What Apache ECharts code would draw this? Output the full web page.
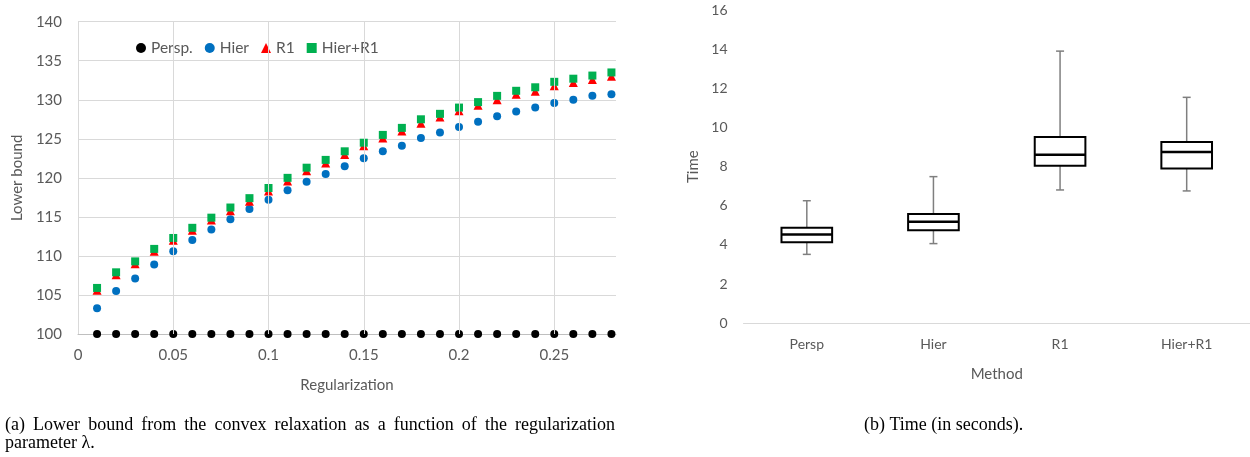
<!DOCTYPE html>
<html><head><meta charset="utf-8">
<script src="https://cdn.jsdelivr.net/npm/echarts@6/dist/echarts.min.js"></script>
<style>html,body{margin:0;padding:0;background:#fff;overflow:hidden}#c{width:1250px;height:457px}</style>
</head><body><div id="c"></div>
<script>
// ---- Left chart data ----
const lambdas = [0.01,0.02,0.03,0.04,0.05,0.06,0.07,0.08,0.09,0.10,0.11,0.12,0.13,0.14,0.15,0.16,0.17,0.18,0.19,0.20,0.21,0.22,0.23,0.24,0.25,0.26,0.27,0.28];
const persp = [100,100,100,100,100,100,100,100,100,100,100,100,100,100,100,100,100,100,100,100,100,100,100,100,100,100,100,100];
const hier = [103.3,105.5,107.1,108.9,110.6,112.05,113.4,114.7,116.0,117.2,118.4,119.5,120.5,121.5,122.5,123.4,124.1,125.1,125.8,126.5,127.2,127.9,128.5,129.0,129.6,130.0,130.5,130.7];
const r1 = [105.6,107.6,109.0,110.6,112.0,113.3,114.6,115.8,117.0,118.3,119.6,120.9,121.9,123.0,124.1,125.1,126.0,127.0,127.8,128.6,129.3,130.0,130.7,131.1,131.8,132.2,132.6,133.0];
const hierR1 = [105.9,107.9,109.3,110.9,112.3,113.6,114.9,116.2,117.4,118.7,120.0,121.3,122.3,123.4,124.5,125.5,126.4,127.5,128.2,129.0,129.7,130.5,131.15,131.6,132.3,132.7,133.1,133.5];
const xGridTicks = [0,0.05,0.1,0.15,0.2,0.25];
// ---- Right chart data ----
const methods = ['Persp','Hier','R1','Hier+R1'];
const tMin = [3.52,4.07,6.81,6.76];
const tQ1 = [4.14,4.75,8.05,7.90];
const tMed = [4.54,5.19,8.61,8.75];
const tQ3 = [4.88,5.58,9.51,9.26];
const tMax = [6.26,7.49,13.9,11.54];
// ---- Captions ----
const captionA1 = '(a) Lower bound from the convex relaxation as a function of the regularization';
const captionA2 = 'parameter \u03bb.';
const captionB = '(b) Time (in seconds).';

const pair = a => lambdas.map((x,i)=>[x,a[i]]);
const txt = '#595959';
const FONT = 'Lato';
const CAP_FONT = '18px "Liberation Serif"';

// justified caption line: place words spread across the target width
const mctx = document.createElement('canvas').getContext('2d');
mctx.font = CAP_FONT;
function justified(text, x0, x1, top){
  const words = text.split(' ');
  const ws = words.map(w=>mctx.measureText(w).width);
  const total = ws.reduce((a,b)=>a+b,0);
  const gap = (x1-x0-total)/(words.length-1);
  let x = x0; const out=[];
  words.forEach((w,i)=>{ out.push({type:'text', x:x, y:top, style:{text:w, font:CAP_FONT, fill:'#000', textVerticalAlign:'top'}}); x += ws[i]+gap; });
  return out;
}

const chart = echarts.init(document.getElementById('c'), null, {renderer:'canvas'});
chart.setOption({
  animation:false,
  textStyle:{fontFamily:FONT},
  grid:[
    {left:78, top:21.7, width:538, height:312.3, containLabel:false},
    {left:743.5, top:10, width:516, height:313.3, containLabel:false}
  ],
  legend:{
    data:['Persp.','Hier','R1','Hier+R1'],
    left:131, top:35, itemWidth:10, itemHeight:10, itemGap:12,
    textStyle:{color:txt, fontSize:15.5, fontFamily:FONT}
  },
  xAxis:[
    {gridIndex:0, type:'value', min:0, max:0.2824, interval:0.05,
     name:'Regularization', nameLocation:'middle', nameGap:44,
     nameTextStyle:{color:txt, fontSize:15, fontFamily:FONT},
     axisLine:{show:true, lineStyle:{color:'#bfbfbf', width:1}},
     axisTick:{show:false}, splitLine:{show:false},
     axisLabel:{color:txt, fontSize:15, margin:14, showMaxLabel:false, fontFamily:FONT}},
    {gridIndex:1, type:'category', data:methods,
     name:'Method', nameLocation:'middle', nameGap:43,
     nameTextStyle:{color:txt, fontSize:15, fontFamily:FONT},
     axisLine:{show:true, lineStyle:{color:'#d9d9d9', width:1}},
     axisTick:{show:false},
     axisLabel:{color:txt, fontSize:14, margin:14, fontFamily:FONT}}
  ],
  yAxis:[
    {gridIndex:0, type:'value', min:100, max:140, interval:5,
     name:'Lower bound', nameLocation:'middle', nameGap:53.5,
     nameTextStyle:{color:txt, fontSize:15, fontFamily:FONT},
     axisLine:{show:false}, axisTick:{show:false},
     splitLine:{show:true, lineStyle:{color:'#d9d9d9', width:1}},
     axisLabel:{color:txt, fontSize:15, margin:16, fontFamily:FONT}},
    {gridIndex:1, type:'value', min:0, max:16, interval:2,
     name:'Time', nameLocation:'middle', nameGap:42.5,
     nameTextStyle:{color:txt, fontSize:15, fontFamily:FONT},
     axisLine:{show:false}, axisTick:{show:false}, splitLine:{show:false},
     axisLabel:{color:txt, fontSize:14, margin:16, fontFamily:FONT}}
  ],
  series:[
    {name:'grid', type:'scatter', xAxisIndex:0, yAxisIndex:0, data:[], z:1, silent:true,
     markLine:{silent:true, symbol:['none','none'], label:{show:false}, animation:false,
       lineStyle:{color:'#d9d9d9', width:1, type:'solid'},
       data:xGridTicks.map(v=>({xAxis:v}))}},
    {name:'Persp.', type:'scatter', xAxisIndex:0, yAxisIndex:0, symbol:'circle', symbolSize:8,
     itemStyle:{color:'#000000', opacity:1}, data:pair(persp), z:3},
    {name:'Hier', type:'scatter', xAxisIndex:0, yAxisIndex:0, symbol:'circle', symbolSize:8,
     itemStyle:{color:'#0070C0', opacity:1}, data:pair(hier), z:3},
    {name:'R1', type:'scatter', xAxisIndex:0, yAxisIndex:0, symbol:'triangle', symbolSize:9,
     itemStyle:{color:'#FF0000', opacity:1}, data:pair(r1), z:3},
    {name:'Hier+R1', type:'scatter', xAxisIndex:0, yAxisIndex:0, symbol:'rect', symbolSize:8,
     itemStyle:{color:'#00B050', opacity:1}, data:pair(hierR1), z:3},
    {name:'box', type:'custom', xAxisIndex:1, yAxisIndex:1,
     data:methods.map((m,i)=>[i,tMin[i],tQ1[i],tMed[i],tQ3[i],tMax[i]]),
     encode:{x:0, y:[1,2,3,4,5]},
     renderItem:function(params, api){
       const i = api.value(0);
       const band = api.size([1,0])[0];
       const bw = band*0.4, cw = 8;
       const cx = api.coord([i, 0])[0];
       const y = k => api.coord([i, api.value(k)])[1];
       const yMin=y(1), yQ1=y(2), yMed=y(3), yQ3=y(4), yMax=y(5);
       const g = {stroke:'#7f7f7f', lineWidth:1.5};
       return {type:'group', children:[
         {type:'line', shape:{x1:cx,y1:yMax,x2:cx,y2:yQ3}, style:g},
         {type:'line', shape:{x1:cx,y1:yQ1,x2:cx,y2:yMin}, style:g},
         {type:'line', shape:{x1:cx-cw/2,y1:yMax,x2:cx+cw/2,y2:yMax}, style:g},
         {type:'line', shape:{x1:cx-cw/2,y1:yMin,x2:cx+cw/2,y2:yMin}, style:g},
         {type:'rect', shape:{x:cx-bw/2,y:yQ3,width:bw,height:yQ1-yQ3}, style:{fill:'#fff', stroke:'#000', lineWidth:2}},
         {type:'line', shape:{x1:cx-bw/2,y1:yMed,x2:cx+bw/2,y2:yMed}, style:{stroke:'#000', lineWidth:2.5}}
       ]};
     }}
  ],
  graphic:[].concat(
    justified(captionA1, 5, 615, 416),
    [{type:'text', x:5, y:434, style:{text:captionA2, font:CAP_FONT, fill:'#000', textVerticalAlign:'top'}},
     {type:'text', x:864, y:416, style:{text:captionB, font:CAP_FONT, fill:'#000', textVerticalAlign:'top'}}]
  )
});
</script></body></html>
